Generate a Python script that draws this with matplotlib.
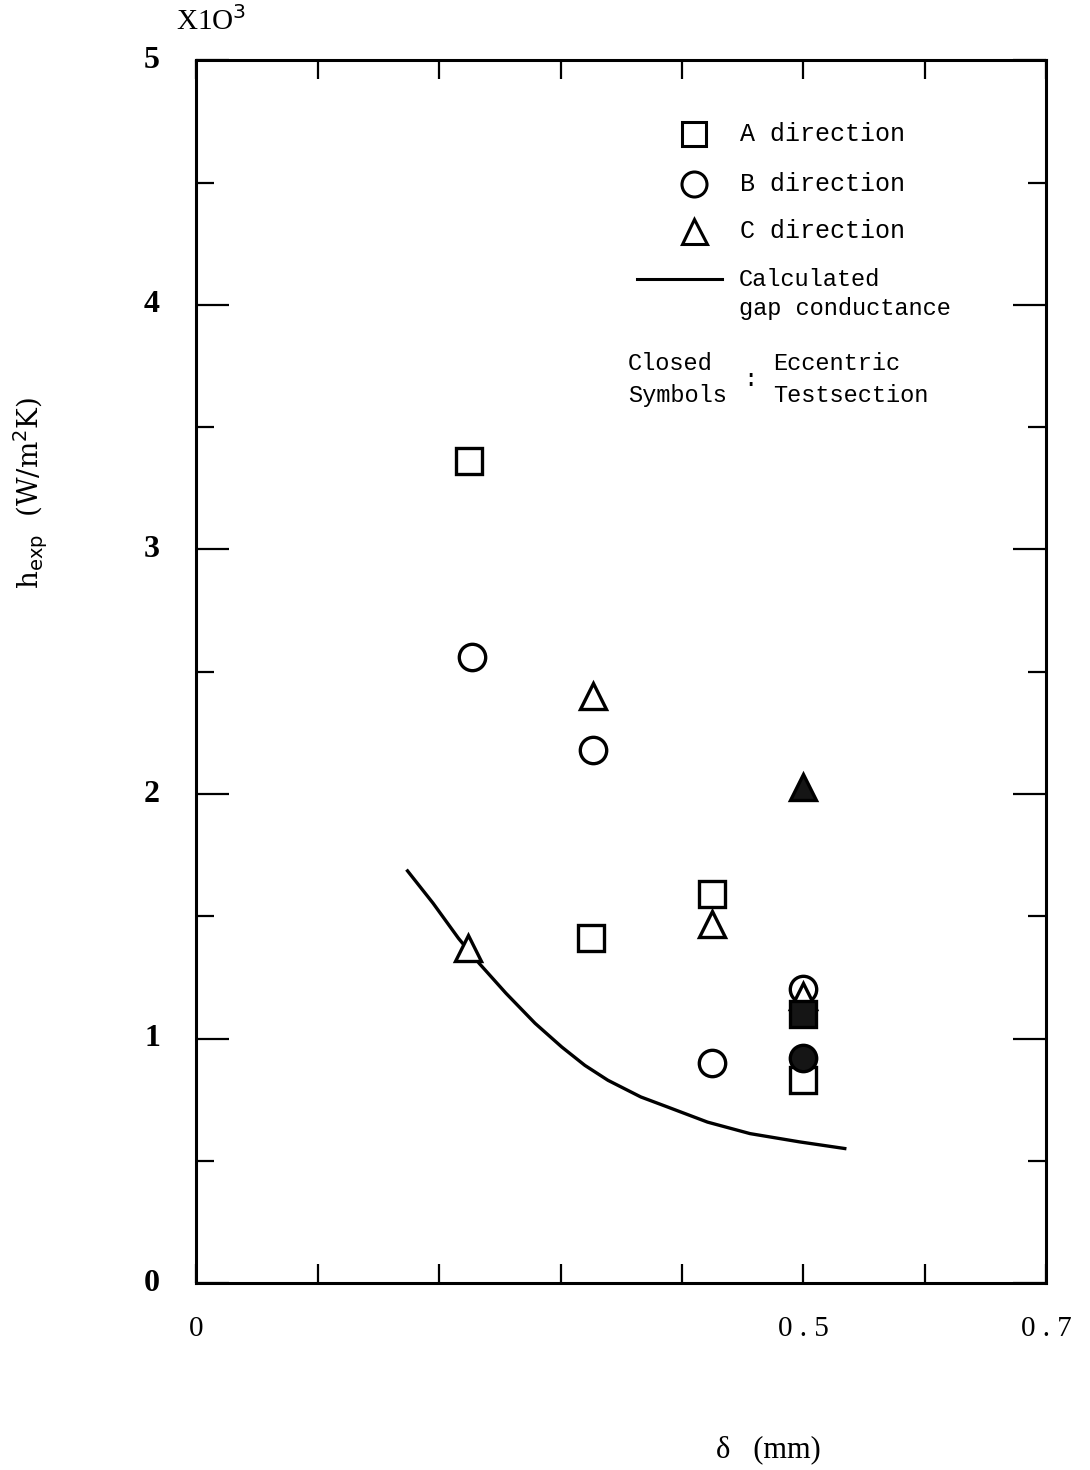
import matplotlib
matplotlib.use("Agg")
import matplotlib.pyplot as plt
from matplotlib.ticker import MultipleLocator

# --- data (delta in mm, h in W/m2K) ---
a_open_x = [0.225, 0.325, 0.425, 0.50]
a_open_y = [3360, 1410, 1590, 830]
b_open_x = [0.227, 0.327, 0.425, 0.50]
b_open_y = [2560, 2180, 900, 1205]
c_open_x = [0.224, 0.327, 0.425, 0.50]
c_open_y = [1370, 2400, 1470, 1175]

a_closed_x = [0.50]
a_closed_y = [1100]
b_closed_x = [0.50]
b_closed_y = [920]
c_closed_x = [0.50]
c_closed_y = [2030]

calc_x = [0.174, 0.195, 0.216, 0.233, 0.255, 0.279, 0.301, 0.320,
          0.339, 0.366, 0.388, 0.421, 0.456, 0.497, 0.534]
calc_y = [1686, 1554, 1410, 1308, 1186, 1063, 966, 891,
          830, 762, 721, 659, 612, 578, 551]

x_ticklabels = {0.0: "0", 0.5: "0.5", 0.7: "0.7"}
y_ticklabels = ["0", "1", "2", "3", "4", "5"]

MONO = "Liberation Mono"
SERIF = "Liberation Serif"
INK = "black"
FILL = "#151515"

fig = plt.figure(figsize=(10.9, 14.7), dpi=100)
ax = fig.add_axes([0.18, 0.127, 0.78, 0.832])

ms = 19
mew = 2.4
open_kw = dict(ls="none", mfc="white", mec=INK, mew=mew, ms=ms)
closed_kw = dict(ls="none", mfc=FILL, mec=INK, mew=mew, ms=ms)

ax.plot(calc_x, calc_y, color=INK, lw=2.4, zorder=2)

ax.plot(a_open_x, a_open_y, marker="s", zorder=3, **open_kw)
ax.plot(b_closed_x, b_closed_y, marker="o", zorder=4, **closed_kw)
ax.plot(b_open_x, b_open_y, marker="o", zorder=3, **open_kw)
ax.plot(c_open_x, c_open_y, marker="^", zorder=4, **open_kw)
ax.plot(a_closed_x, a_closed_y, marker="s", zorder=5, **closed_kw)
ax.plot(c_closed_x, c_closed_y, marker="^", zorder=5, **closed_kw)

ax.set_xlim(0, 0.7)
ax.set_ylim(0, 5000)

ax.xaxis.set_major_locator(MultipleLocator(0.1))
ax.yaxis.set_major_locator(MultipleLocator(1000))
ax.yaxis.set_minor_locator(MultipleLocator(500))
ax.tick_params(axis="x", which="major", direction="in", length=14, width=1.6,
               top=True, bottom=True, labelbottom=False)
ax.tick_params(axis="y", which="major", direction="in", length=24, width=1.6,
               left=True, right=True, labelleft=False)
ax.tick_params(axis="y", which="minor", direction="in", length=13, width=1.6,
               left=True, right=True)
for sp in ax.spines.values():
    sp.set_linewidth(2.2)

# tick labels drawn as text so only 0, 0.5, 0.7 appear
for xv, lab in x_ticklabels.items():
    ax.text(xv, -0.027, " ".join(lab) if "." in lab else lab,
            transform=ax.get_xaxis_transform(), ha="center", va="top",
            family=SERIF, fontsize=21)
for i, lab in enumerate(y_ticklabels):
    ax.text(-0.052, i * 1000, lab, transform=ax.get_yaxis_transform(), ha="center",
            va="center", family=SERIF, fontweight="bold", fontsize=23)
ax.text(0.018, 1.032, "X1O$^{3}$", transform=ax.transAxes, ha="center", va="center",
        family=SERIF, fontsize=21)

fig.text(0.705, 0.014, "δ   (mm)", ha="center", va="center", family=SERIF, fontsize=22)
fig.text(0.028, 0.665, r"h$_{\mathrm{exp}}$  (W/m$^{2}$K)", rotation=90, ha="center",
         va="center", family="DejaVu Serif", fontsize=20)

# legend, laid out by hand like the original
lg_x = 0.585
tx = 0.640
ax.plot([lg_x], [0.940], marker="s", transform=ax.transAxes, mfc="white", mec=INK,
        mew=2.2, ms=17, clip_on=False)
ax.plot([lg_x], [0.899], marker="o", transform=ax.transAxes, mfc="white", mec=INK,
        mew=2.2, ms=18, clip_on=False)
ax.plot([lg_x], [0.860], marker="^", transform=ax.transAxes, mfc="white", mec=INK,
        mew=2.2, ms=18, clip_on=False)
for yy, lab in [(0.940, "A direction"), (0.899, "B direction"), (0.860, "C direction")]:
    ax.text(tx, yy, lab, transform=ax.transAxes, ha="left", va="center",
            family=MONO, fontsize=18)
ax.plot([0.518, 0.619], [0.821, 0.821], transform=ax.transAxes, color=INK, lw=2.2)
ax.text(0.638, 0.821, "Calculated", transform=ax.transAxes, ha="left", va="center",
        family=MONO, fontsize=17)
ax.text(0.638, 0.797, "gap conductance", transform=ax.transAxes, ha="left",
        va="center", family=MONO, fontsize=17)
ax.text(0.508, 0.752, "Closed", transform=ax.transAxes, ha="left", va="center",
        family=MONO, fontsize=17)
ax.text(0.508, 0.726, "Symbols", transform=ax.transAxes, ha="left", va="center",
        family=MONO, fontsize=17)
ax.text(0.652, 0.739, ":", transform=ax.transAxes, ha="center", va="center",
        family=MONO, fontsize=17)
ax.text(0.678, 0.752, "Eccentric", transform=ax.transAxes, ha="left", va="center",
        family=MONO, fontsize=17)
ax.text(0.678, 0.726, "Testsection", transform=ax.transAxes, ha="left",
        va="center", family=MONO, fontsize=17)

fig.savefig("out.png", dpi=100)
